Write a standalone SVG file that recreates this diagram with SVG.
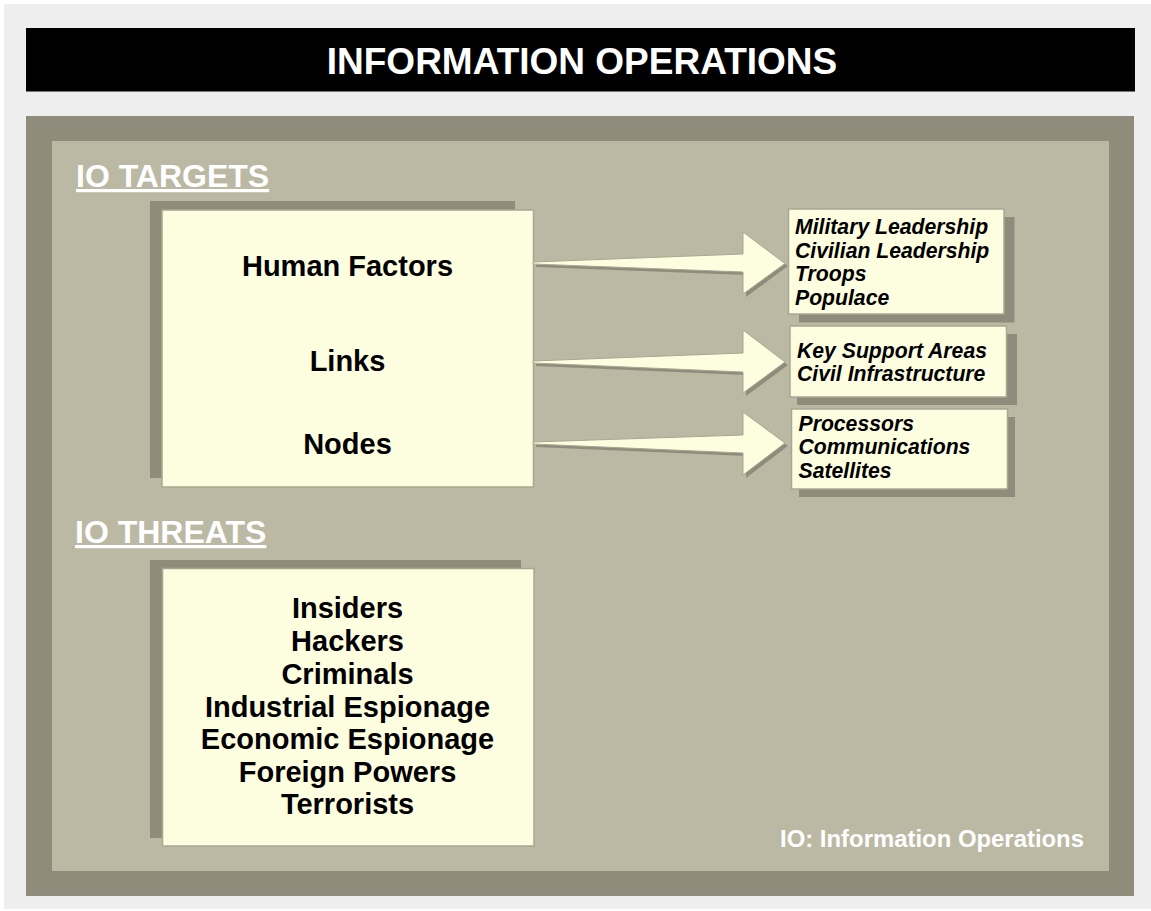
<svg xmlns="http://www.w3.org/2000/svg" width="1151" height="911" viewBox="0 0 1151 911">
<style>
.bg{fill:#eeeeee}
.frame{fill:#8f8c7c}
.panel{fill:#bbb9a4}
.shadow{fill:#8f8c7c}
.box{fill:#fdfde0;stroke:#a9a792;stroke-width:1.5}
.arrow{fill:#fdfde0;stroke:#a9a792;stroke-width:1}
.ashadow{fill:#8f8c7c}
text{font-family:"Liberation Sans",Arial,Helvetica,sans-serif;font-weight:bold}
.title{fill:#ffffff;font-size:37px}
.head{fill:#ffffff;font-size:32px;text-decoration:underline}
.big{fill:#000000;font-size:29px;text-anchor:middle}
.it{fill:#000000;font-size:21.2px;font-style:italic}
.foot{fill:#ffffff;font-size:23.9px;text-anchor:end}
</style>
<rect x="0" y="0" width="1151" height="911" fill="#ffffff"/>
<rect class="bg" x="4" y="4" width="1147" height="905"/>
<g id="title">
<rect x="26" y="28" width="1109" height="63.5" fill="#000000"/>
<text class="title" x="582" y="74" text-anchor="middle">INFORMATION OPERATIONS</text>
</g>
<rect class="frame" x="26" y="116" width="1108" height="780"/>
<rect class="panel" x="52" y="141" width="1057" height="730"/>
<text class="head" x="76" y="187">IO TARGETS</text>
<text class="head" x="75" y="543">IO THREATS</text>
<g id="targets">
<rect class="shadow" x="150" y="201" width="365" height="277"/>
<rect class="box" x="162" y="210" width="371.5" height="277"/>
<text class="big" x="347.5" y="276">Human Factors</text>
<text class="big" x="347.5" y="371">Links</text>
<text class="big" x="347.5" y="454">Nodes</text>
</g>
<g id="threats">
<rect class="shadow" x="150" y="560" width="371" height="278"/>
<rect class="box" x="162.5" y="568.5" width="371.5" height="277.5"/>
<text class="big" x="347.5" y="618">Insiders</text>
<text class="big" x="347.5" y="651">Hackers</text>
<text class="big" x="347.5" y="684">Criminals</text>
<text class="big" x="347.5" y="717">Industrial Espionage</text>
<text class="big" x="347.5" y="749">Economic Espionage</text>
<text class="big" x="347.5" y="782">Foreign Powers</text>
<text class="big" x="347.5" y="814">Terrorists</text>
</g>
<g id="connectors">
<polygon class="ashadow" points="536,265 746,257 746,235 788,266 746,297 746,275 536,267"/>
<polygon class="arrow" points="533,262 743,254 743,232 785,263.5 743,294 743,272 533,264"/>
<polygon class="ashadow" points="536,364 746,356 746,333 788,365 746,396 746,375 536,366"/>
<polygon class="arrow" points="533,361 743,353 743,330 785,362 743,393 743,372 533,363"/>
<polygon class="ashadow" points="536,445 746,438 746,415 788,446 746,478 746,456 536,447"/>
<polygon class="arrow" points="533,442 743,435 743,412 785,443 743,475 743,453 533,444"/>
</g>
<g id="human-factors-list">
<rect class="shadow" x="799" y="217" width="215.5" height="105.5"/>
<rect class="box" x="788.5" y="209" width="215.5" height="105"/>
<text class="it" x="795" y="234">Military Leadership</text>
<text class="it" x="795" y="257.5">Civilian Leadership</text>
<text class="it" x="795" y="281">Troops</text>
<text class="it" x="795" y="304.5">Populace</text>
</g>
<g id="links-list">
<rect class="shadow" x="797" y="334" width="220" height="71"/>
<rect class="box" x="790" y="326" width="216.5" height="71"/>
<text class="it" x="797" y="357.5">Key Support Areas</text>
<text class="it" x="797" y="380.5">Civil Infrastructure</text>
</g>
<g id="nodes-list">
<rect class="shadow" x="799" y="417" width="216" height="80"/>
<rect class="box" x="791.5" y="409" width="216" height="80"/>
<text class="it" x="798.5" y="430.5">Processors</text>
<text class="it" x="798.5" y="454">Communications</text>
<text class="it" x="798.5" y="477.5">Satellites</text>
</g>
<text class="foot" x="1084" y="847">IO: Information Operations</text>
</svg>
